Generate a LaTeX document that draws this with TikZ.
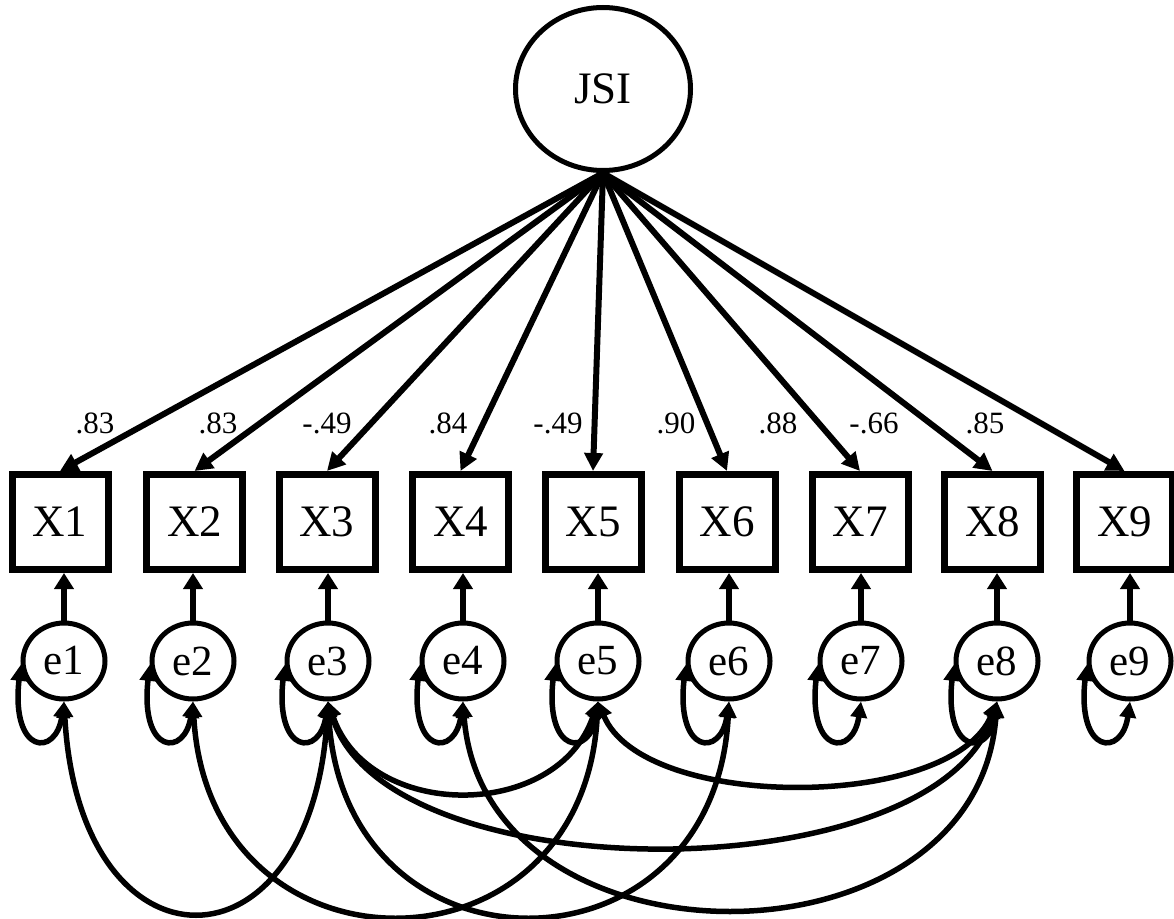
\documentclass[tikz,border=0pt]{standalone}
\usepackage{fontspec}
\setmainfont{Liberation Serif}
\usetikzlibrary{arrows.meta,shapes.geometric}
\begin{document}
\begin{tikzpicture}[x=1pt,y=-1pt,
  latent/.style={draw, ellipse, line width=5pt, minimum width=175pt, minimum height=163pt,
    inner sep=0pt, font=\fontsize{45}{50}\selectfont},
  observed/.style={draw, rectangle, line width=7pt, minimum width=96pt, minimum height=95pt,
    inner sep=0pt, font=\fontsize{45}{50}\selectfont},
  errterm/.style={draw, ellipse, line width=5pt, minimum width=82pt, minimum height=76pt,
    inner sep=0pt, font=\fontsize{43}{48}\selectfont},
  coef/.style={inner sep=0pt, font=\fontsize{31}{36}\selectfont},
  loading/.style={line width=6pt, -{Triangle[length=18pt,width=18pt]}},
  errpath/.style={line width=6pt, -{Triangle[length=16pt,width=19pt]}},
  covar/.style={line width=5.5pt, {Triangle[length=16pt,width=16pt]}-{Triangle[length=16pt,width=16pt]}}
]
\useasboundingbox (0,0) rectangle (1174,918);

% latent factor
\node[latent] (JSI) at (603,89) {JSI};

% indicators
\foreach \i/\x in {1/60,2/194.5,3/327,4/460.5,5/593,6/727,7/860,8/992.5,9/1124.5}
  \node[observed] (X\i) at (\x,522) {X\i};

% error terms
\foreach \i/\x in {1/64,2/193,3/328,4/463,5/598,6/729,7/861,8/997,9/1130}
  \node[errterm] (e\i) at (\x,661) {e\i};

% factor loadings
\foreach \i in {1,...,9}
  \draw[loading] (JSI.south) -- (X\i.north);

% loading estimates
\node[coef] (c1) at (95,423) {.83};
\node[coef] (c2) at (218,423) {.83};
\node[coef] (c3) at (327,423) {-.49};
\node[coef] (c4) at (448,423) {.84};
\node[coef] (c5) at (558,423) {-.49};
\node[coef] (c6) at (676,423) {.90};
\node[coef] (c7) at (778,423) {.88};
\node[coef] (c8) at (874,423) {-.66};
\node[coef] (c9) at (985,423) {.85};

% error paths and variances
\foreach \i in {1,...,9}{
  \draw[errpath] (e\i) -- (e\i |- X\i.south);
  \draw[covar] (e\i.185) .. controls +(-10,90) and +(-8,56) .. (e\i.south);
}

% error covariances
\draw[covar] (e1.south) .. controls +(15,280) and +(-15,280) .. (e3.south);
\draw[covar] (e2.south) .. controls +(15,284) and +(-15,284) .. (e5.south);
\draw[covar] (e3.south) .. controls +(15,284) and +(-15,284) .. (e6.south);
\draw[covar] (e3.south) .. controls +(40,120) and +(-40,120) .. (e5.south);
\draw[covar] (e3.south) .. controls +(55,192) and +(-60,192) .. (e8.south);
\draw[covar] (e4.south) .. controls +(20,275) and +(-20,275) .. (e8.south);
\draw[covar] (e5.south) .. controls +(45,110) and +(-45,110) .. (e8.south);
\end{tikzpicture}
\end{document}
